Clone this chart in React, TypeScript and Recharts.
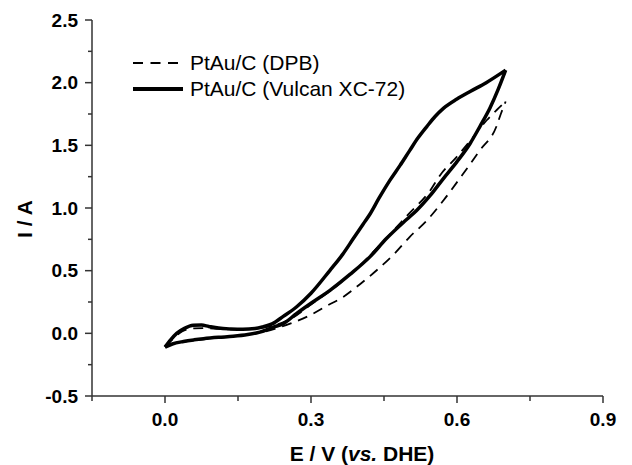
import { ComposedChart, Line, XAxis, YAxis, Legend } from 'recharts';

const FONT = '"Liberation Sans", Arial, Helvetica, sans-serif';
const AXIS = '#333';

// PtAu/C (Vulcan XC-72): upper branch (with the small hump near 0.06 V) and lower branch
const vulcanUpE = [0, 0.012, 0.024, 0.04, 0.058, 0.075, 0.09, 0.11, 0.135, 0.16, 0.185, 0.2, 0.22, 0.243, 0.27, 0.3, 0.339, 0.365, 0.387, 0.407, 0.421, 0.44, 0.462, 0.483, 0.503, 0.52, 0.538, 0.555, 0.572, 0.6, 0.627, 0.66, 0.7];
const vulcanUpI = [-0.11, -0.05, 0.0, 0.04, 0.064, 0.066, 0.055, 0.042, 0.035, 0.032, 0.038, 0.05, 0.075, 0.135, 0.21, 0.32, 0.503, 0.63, 0.756, 0.87, 0.95, 1.08, 1.22, 1.34, 1.46, 1.56, 1.65, 1.73, 1.795, 1.87, 1.93, 2.0, 2.1];
const vulcanDownE = [0, 0.015, 0.038, 0.06, 0.079, 0.11, 0.14, 0.17, 0.195, 0.223, 0.243, 0.27, 0.3, 0.339, 0.38, 0.421, 0.455, 0.497, 0.517, 0.545, 0.572, 0.6, 0.627, 0.647, 0.668, 0.685, 0.7];
const vulcanDownI = [-0.11, -0.085, -0.065, -0.052, -0.043, -0.032, -0.024, -0.01, 0.01, 0.05, 0.077, 0.157, 0.24, 0.343, 0.47, 0.61, 0.756, 0.91, 0.98, 1.1, 1.235, 1.37, 1.515, 1.65, 1.8, 1.95, 2.1];

// PtAu/C (DPB)
const dpbUpE = [0, 0.015, 0.035, 0.06, 0.085, 0.11, 0.14, 0.17, 0.2, 0.23, 0.26, 0.3, 0.35, 0.4, 0.45, 0.5, 0.545, 0.565, 0.6, 0.63, 0.661, 0.681, 0.7];
const dpbUpI = [-0.1, -0.05, 0.015, 0.04, 0.042, 0.035, 0.032, 0.034, 0.045, 0.07, 0.12, 0.23, 0.37, 0.54, 0.74, 0.95, 1.14, 1.26, 1.41, 1.55, 1.7, 1.78, 1.85];
const dpbDownE = [0, 0.02, 0.05, 0.1, 0.15, 0.2, 0.257, 0.298, 0.333, 0.366, 0.4, 0.435, 0.47, 0.503, 0.538, 0.572, 0.613, 0.647, 0.681, 0.69, 0.7];
const dpbDownI = [-0.1, -0.08, -0.06, -0.04, -0.02, 0.01, 0.077, 0.144, 0.22, 0.29, 0.39, 0.503, 0.63, 0.77, 0.9, 1.06, 1.275, 1.46, 1.65, 1.75, 1.85];

const xTicks = [-0.15, 0, 0.15, 0.3, 0.45, 0.6, 0.75, 0.9];
const xMajor = [0, 0.3, 0.6, 0.9];
const yTicks = [-0.5, -0.25, 0, 0.25, 0.5, 0.75, 1, 1.25, 1.5, 1.75, 2, 2.25, 2.5];
const yMajor = [-0.5, 0, 0.5, 1, 1.5, 2, 2.5];

const legendItems = [
  { name: 'PtAu/C (DPB)', dashed: true },
  { name: 'PtAu/C (Vulcan XC-72)', dashed: false },
];

const zip = (e: number[], i: number[]) => e.map((v, k) => ({ e: v, i: i[k] }));

const XTick = (props: any) => {
  const { x, y, payload } = props;
  const major = xMajor.includes(payload.value);
  return (
    <g>
      <line x1={x} y1={y} x2={x} y2={y + (major ? 7 : 5)} stroke={AXIS} strokeWidth={1.5} />
      {major && (
        <text x={x} y={y + 30} textAnchor="middle" fontFamily={FONT} fontSize={19} fontWeight="bold" fill="#000">
          {payload.value.toFixed(1)}
        </text>
      )}
    </g>
  );
};

const YTick = (props: any) => {
  const { x, y, payload } = props;
  const major = yMajor.includes(payload.value);
  return (
    <g>
      <line x1={x - (major ? 7 : 4)} y1={y} x2={x} y2={y} stroke={AXIS} strokeWidth={1.5} />
      {major && (
        <text x={x - 14} y={y + 6.5} textAnchor="end" fontFamily={FONT} fontSize={19} fontWeight="bold" fill="#000">
          {payload.value.toFixed(1)}
        </text>
      )}
    </g>
  );
};

const YTitle = () => (
  <text
    x={24}
    y={219}
    transform="rotate(-90, 24, 219)"
    textAnchor="middle"
    dominantBaseline="central"
    fontFamily={FONT}
    fontSize={21}
    fontWeight="bold"
    fill="#000"
  >
    I / A
  </text>
);

const XTitle = () => (
  <text x={362} y={461} textAnchor="middle" fontFamily={FONT} fontSize={21} fontWeight="bold" fill="#000">
    E / V (<tspan fontStyle="italic">vs.</tspan> DHE)
  </text>
);

const renderLegend = () => (
  <div style={{ fontFamily: FONT, fontSize: 21, color: '#000', lineHeight: '26px' }}>
    {legendItems.map((item) => (
      <div key={item.name} style={{ display: 'flex', alignItems: 'center', height: 26, whiteSpace: 'nowrap' }}>
        <svg width={57} height={26} style={{ display: 'block' }}>
          {item.dashed ? (
            <line x1={0} y1={13} x2={45} y2={13} stroke="#000" strokeWidth={2} strokeDasharray="10 7.5" />
          ) : (
            <line x1={0} y1={13} x2={50} y2={13} stroke="#000" strokeWidth={4} />
          )}
        </svg>
        <span>{item.name}</span>
      </div>
    ))}
  </div>
);

export default function App() {
  return (
    <div style={{ position: 'absolute', left: 0, top: 0, background: '#fff' }}>
      <ComposedChart width={632} height={465} margin={{ top: 20, right: 29, bottom: 0, left: 0 }}>
        <XAxis
          dataKey="e"
          type="number"
          domain={[-0.15, 0.9]}
          ticks={xTicks}
          interval={0}
          allowDataOverflow
          height={69}
          tickSize={0}
          tickMargin={0}
          tickLine={false}
          tick={<XTick />}
          axisLine={{ stroke: AXIS, strokeWidth: 1.5 }}
          label={<XTitle />}
        />
        <XAxis
          xAxisId="top"
          orientation="top"
          type="number"
          domain={[-0.15, 0.9]}
          height={0}
          tick={false}
          tickLine={false}
          axisLine={{ stroke: AXIS, strokeWidth: 1.5 }}
        />
        <YAxis
          type="number"
          domain={[-0.5, 2.5]}
          ticks={yTicks}
          interval={0}
          allowDataOverflow
          width={92}
          tickSize={0}
          tickMargin={0}
          tickLine={false}
          tick={<YTick />}
          axisLine={{ stroke: AXIS, strokeWidth: 1.5 }}
          label={<YTitle />}
        />
        <YAxis
          yAxisId="right"
          orientation="right"
          type="number"
          domain={[-0.5, 2.5]}
          width={0}
          tick={false}
          tickLine={false}
          axisLine={{ stroke: AXIS, strokeWidth: 1.5 }}
        />
        <Legend
          layout="vertical"
          align="center"
          verticalAlign="middle"
          content={renderLegend}
          wrapperStyle={{ left: 133, top: 50, width: 300 }}
        />
        <Line
          data={zip(dpbUpE, dpbUpI)}
          dataKey="i"
          type="monotone"
          stroke="#000"
          strokeWidth={1.8}
          strokeDasharray="10 7"
          dot={false}
          activeDot={false}
          isAnimationActive={false}
        />
        <Line
          data={zip(dpbDownE, dpbDownI)}
          dataKey="i"
          type="monotone"
          stroke="#000"
          strokeWidth={1.8}
          strokeDasharray="10 7"
          dot={false}
          activeDot={false}
          isAnimationActive={false}
        />
        <Line
          data={zip(vulcanUpE, vulcanUpI)}
          dataKey="i"
          type="monotone"
          stroke="#000"
          strokeWidth={3.5}
          strokeLinejoin="round"
          dot={false}
          activeDot={false}
          isAnimationActive={false}
        />
        <Line
          data={zip(vulcanDownE, vulcanDownI)}
          dataKey="i"
          type="monotone"
          stroke="#000"
          strokeWidth={3.5}
          strokeLinejoin="round"
          dot={false}
          activeDot={false}
          isAnimationActive={false}
        />
      </ComposedChart>
    </div>
  );
}
